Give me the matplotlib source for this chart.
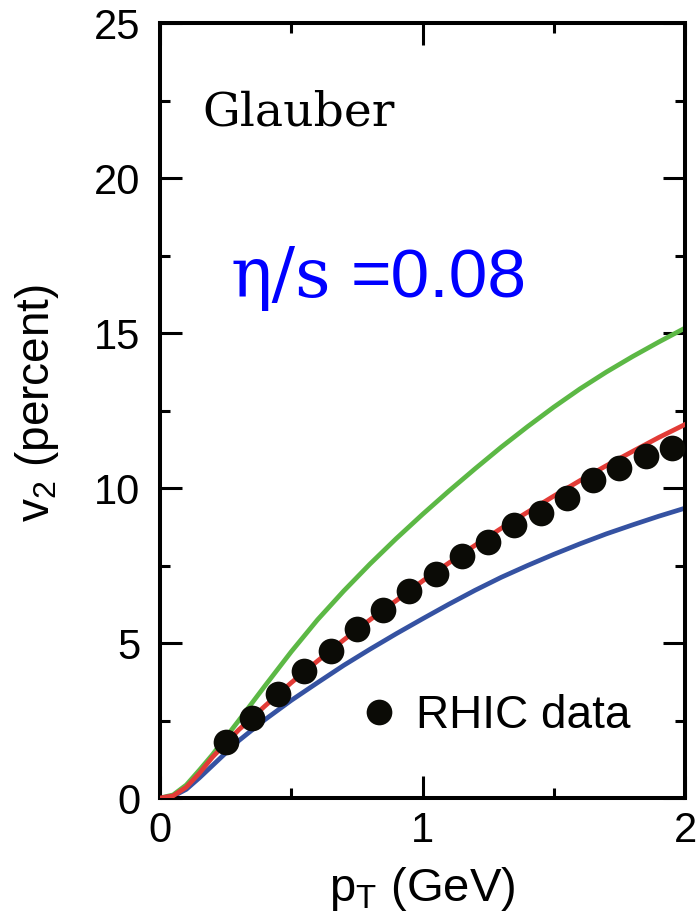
import numpy as np
import matplotlib
matplotlib.use("Agg")
import matplotlib.pyplot as plt
from matplotlib.ticker import MultipleLocator

plt.rcParams["font.family"] = ["Liberation Sans", "DejaVu Sans"]

# hydro curves, v2 in percent vs pT in GeV
pt_grid = [0.0, 0.05, 0.1, 0.15, 0.2, 0.3, 0.4, 0.5, 0.6, 0.7, 0.8, 0.9, 1.0,
           1.1, 1.2, 1.3, 1.4, 1.5, 1.6, 1.7, 1.8, 1.9, 2.0]
v2_green = [0.0, 0.1, 0.42, 0.9, 1.4, 2.5, 3.62, 4.72, 5.75, 6.68, 7.55, 8.37, 9.15,
            9.9, 10.62, 11.32, 11.98, 12.61, 13.2, 13.74, 14.24, 14.71, 15.16]
v2_red = [0.0, 0.07, 0.35, 0.8, 1.32, 2.2, 2.97, 3.72, 4.42, 5.1, 5.75, 6.37, 7.0,
          7.58, 8.15, 8.7, 9.22, 9.74, 10.24, 10.72, 11.18, 11.63, 12.05]
v2_blue = [0.0, 0.06, 0.28, 0.65, 1.05, 1.85, 2.53, 3.15, 3.72, 4.28, 4.8, 5.3, 5.78,
           6.25, 6.7, 7.12, 7.5, 7.86, 8.2, 8.52, 8.81, 9.09, 9.35]

# RHIC data points
pt_data = [0.25, 0.35, 0.45, 0.55, 0.65, 0.75, 0.85, 0.95, 1.05,
           1.15, 1.25, 1.35, 1.45, 1.55, 1.65, 1.75, 1.85, 1.95]
v2_data = [1.80, 2.58, 3.35, 4.09, 4.74, 5.44, 6.06, 6.67, 7.23,
           7.80, 8.26, 8.80, 9.21, 9.67, 10.25, 10.66, 11.04, 11.28]

fig = plt.figure(figsize=(6.96, 9.14), dpi=100)
ax = fig.add_axes([0.2299, 0.1269, 0.7543, 0.8479])

lw = 3.4
ax.plot(pt_grid, v2_green, color="#5cb845", lw=lw, zorder=2)
ax.plot(pt_grid, v2_blue, color="#3552a2", lw=lw, zorder=2)
ax.plot(pt_grid, v2_red, color="#e23b36", lw=lw, zorder=3)
ax.plot(pt_data, v2_data, "o", color="#0b0b06", ms=18.5, mew=0, zorder=4,
        label="RHIC data")

ax.set_xlim(0, 2)
ax.set_ylim(0, 25)
ax.xaxis.set_major_locator(MultipleLocator(1))
ax.xaxis.set_minor_locator(MultipleLocator(0.5))
ax.yaxis.set_major_locator(MultipleLocator(5))
ax.yaxis.set_minor_locator(MultipleLocator(2.5))
ax.tick_params(which="both", direction="in", top=True, right=True, width=2.2)
ax.tick_params(which="major", length=16, labelsize=30)
ax.tick_params(which="minor", length=7.5)
ax.tick_params(axis="x", which="major", pad=9)
ax.tick_params(axis="y", which="major", pad=14)
for s in ax.spines.values():
    s.set_linewidth(2.9)

ax.set_xlabel(r"$\mathregular{p_T}$ (GeV)", fontsize=34)
ax.set_ylabel(r"$\mathregular{v_2}$ (percent)", fontsize=33)
ax.xaxis.set_label_coords(0.5, -0.086)
ax.yaxis.set_label_coords(-0.189, 0.51)

ax.text(0.08, 0.868, "Glauber", transform=ax.transAxes, fontsize=34,
        family="DejaVu Serif", va="baseline", ha="left")
ax.text(0.135, 0.646, "\u03b7/s", transform=ax.transAxes, fontsize=50,
        family="DejaVu Serif", color="#0000ff", va="baseline", ha="left")
ax.text(0.364, 0.646, "=0.08", transform=ax.transAxes, fontsize=50,
        color="#0000ff", va="baseline", ha="left")

ax.legend(loc="center left", bbox_to_anchor=(0.396, 0.106), frameon=False,
          fontsize=33, handlelength=0.5, handletextpad=0.55, borderpad=0,
          borderaxespad=0, markerscale=1.0)

fig.savefig("out.png", dpi=100)
